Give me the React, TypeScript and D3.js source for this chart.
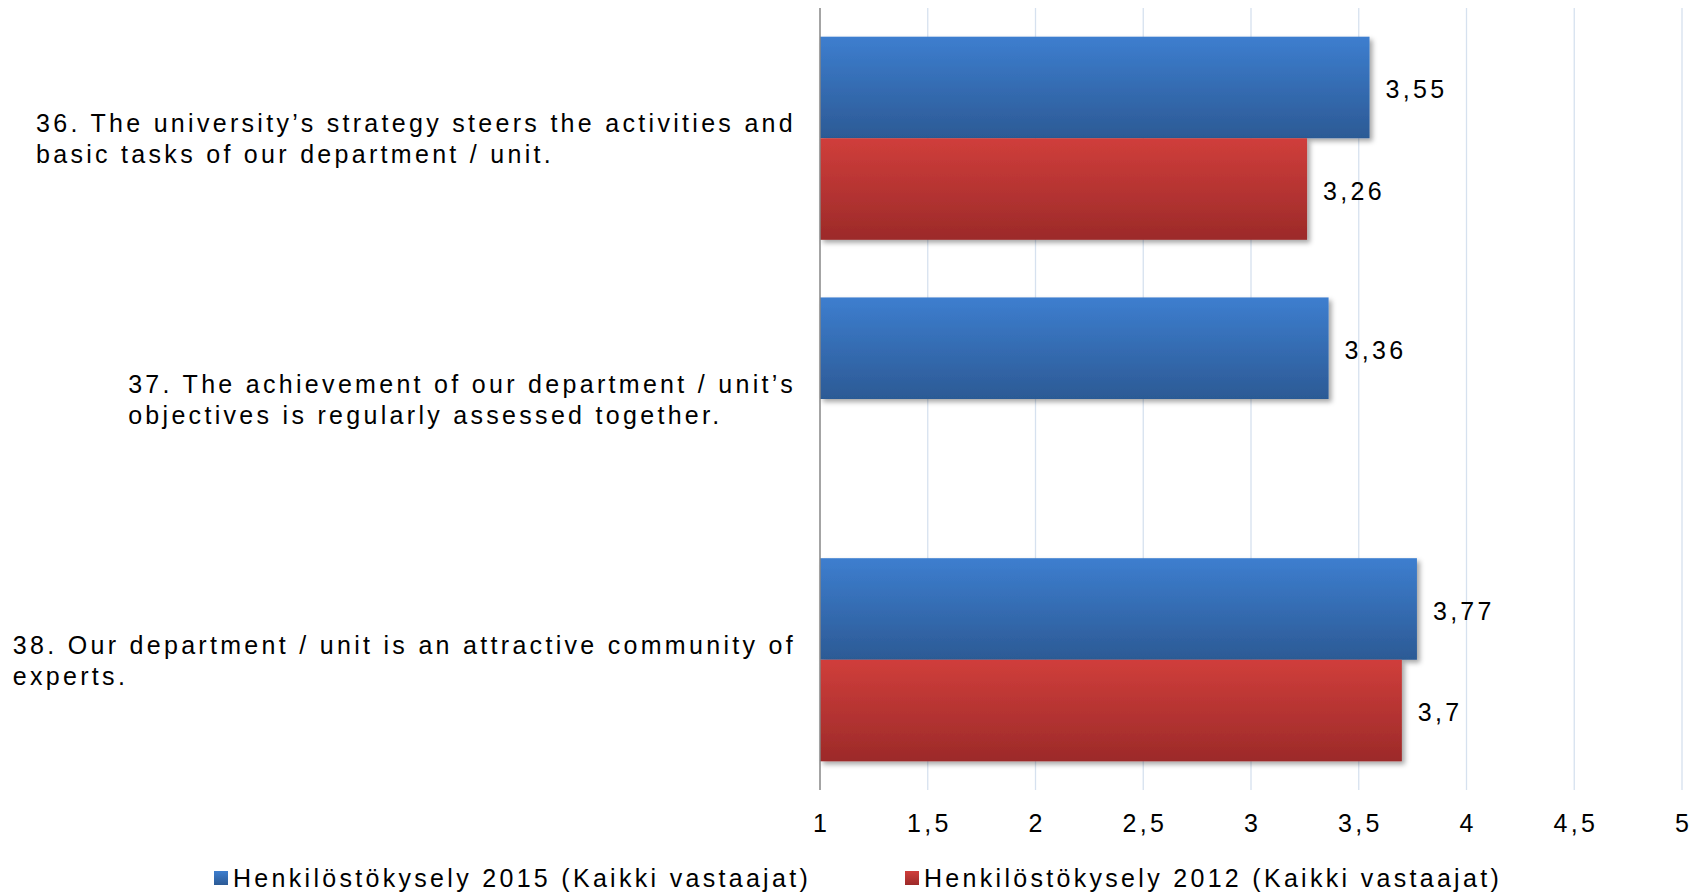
import React, { useEffect, useRef } from "react";
import * as d3 from "d3";

const categoryLines: string[][] = [
  ["36. The university’s strategy steers the activities and", "basic tasks of our department / unit."],
  ["37. The achievement of our department / unit’s", "objectives is regularly assessed together."],
  ["38. Our department / unit is an attractive community of", "experts."],
];
const categories = ["36", "37", "38"];
const values2015: number[] = [3.55, 3.36, 3.77];
const values2012: (number | null)[] = [3.26, null, 3.7];
const seriesNames = [
  "Henkilöstökysely 2015 (Kaikki vastaajat)",
  "Henkilöstökysely 2012 (Kaikki vastaajat)",
];
const xTicks = [1, 1.5, 2, 2.5, 3, 3.5, 4, 4.5, 5];

const W = 1703;
const H = 895;
const FONT = "'Liberation Sans', Arial, sans-serif";
const FS = 25;
const LS = 3.3;

const fmt = (v: number) => String(v).replace(".", ",");

export default function App() {
  const ref = useRef<SVGSVGElement | null>(null);

  useEffect(() => {
    const svg = d3.select(ref.current);
    svg.selectAll("*").remove();

    const x = d3.scaleLinear().domain([1, 5]).range([820, 1682]);
    const y = d3
      .scaleBand<string>()
      .domain(categories)
      .range([8, 790])
      .paddingInner(0.221)
      .paddingOuter(0.11);

    const defs = svg.append("defs");
    const mkGrad = (id: string, c1: string, c2: string) => {
      const g = defs
        .append("linearGradient")
        .attr("id", id)
        .attr("x1", 0)
        .attr("y1", 0)
        .attr("x2", 0)
        .attr("y2", 1);
      g.append("stop").attr("offset", "0%").attr("stop-color", c1);
      g.append("stop").attr("offset", "100%").attr("stop-color", c2);
    };
    mkGrad("gBlue", "#3D7ECF", "#2C5A95");
    mkGrad("gRed", "#D03E3B", "#9C2A29");
    const f = defs
      .append("filter")
      .attr("id", "shadow")
      .attr("x", "-5%")
      .attr("y", "-10%")
      .attr("width", "115%")
      .attr("height", "130%");
    f.append("feDropShadow")
      .attr("dx", 3)
      .attr("dy", 3)
      .attr("stdDeviation", 2.5)
      .attr("flood-color", "#000")
      .attr("flood-opacity", 0.35);

    // gridlines
    svg
      .append("g")
      .selectAll("line")
      .data(xTicks.slice(1))
      .join("line")
      .attr("x1", (d) => x(d))
      .attr("x2", (d) => x(d))
      .attr("y1", 8)
      .attr("y2", 790)
      .attr("stroke", "#D6E1EF")
      .attr("stroke-width", 1.3);

    const bw = y.bandwidth() / 2;
    const bars = svg.append("g");
    categories.forEach((c, i) => {
      const y0 = y(c)!;
      const v1 = values2015[i];
      bars
        .append("rect")
        .attr("x", x(1))
        .attr("y", y0)
        .attr("width", x(v1) - x(1))
        .attr("height", bw)
        .attr("fill", "url(#gBlue)")
        .attr("filter", "url(#shadow)");
      const v2 = values2012[i];
      if (v2 != null) {
        bars
          .append("rect")
          .attr("x", x(1))
          .attr("y", y0 + bw)
          .attr("width", x(v2) - x(1))
          .attr("height", bw)
          .attr("fill", "url(#gRed)")
          .attr("filter", "url(#shadow)");
      }
    });

    // value labels
    const lab = svg
      .append("g")
      .attr("font-family", FONT)
      .attr("font-size", FS)
      .attr("letter-spacing", LS)
      .attr("fill", "#000");
    categories.forEach((c, i) => {
      const y0 = y(c)!;
      const v1 = values2015[i];
      lab
        .append("text")
        .attr("x", x(v1) + 16)
        .attr("y", y0 + bw / 2 + 2)
        .attr("dy", "0.35em")
        .text(fmt(v1));
      const v2 = values2012[i];
      if (v2 != null) {
        lab
          .append("text")
          .attr("x", x(v2) + 16)
          .attr("y", y0 + bw * 1.5 + 2)
          .attr("dy", "0.35em")
          .text(fmt(v2));
      }
    });

    // axis line
    svg
      .append("line")
      .attr("x1", x(1))
      .attr("x2", x(1))
      .attr("y1", 8)
      .attr("y2", 790)
      .attr("stroke", "#868686")
      .attr("stroke-width", 1.5);

    // tick labels
    svg
      .append("g")
      .attr("font-family", FONT)
      .attr("font-size", FS)
      .attr("letter-spacing", LS)
      .attr("text-anchor", "middle")
      .selectAll("text")
      .data(xTicks)
      .join("text")
      .attr("x", (d) => x(d) + LS / 2)
      .attr("y", 823)
      .attr("dy", "0.35em")
      .text((d) => fmt(d));

    // category labels
    const cat = svg
      .append("g")
      .attr("font-family", FONT)
      .attr("font-size", FS)
      .attr("letter-spacing", LS);
    categories.forEach((c, i) => {
      const yc = y(c)! + y.bandwidth() / 2 + 1;
      const lines = categoryLines[i];
      const g = cat.append("g");
      const texts = lines.map((ln, j) =>
        g
          .append("text")
          .attr("y", yc + (j - (lines.length - 1) / 2) * 31)
          .attr("dy", "0.35em")
          .text(ln)
      );
      const maxW = d3.max(texts, (t) => (t.node() as SVGTextElement).getComputedTextLength()) || 0;
      texts.forEach((t) => t.attr("x", 796 - maxW));
    });

    // legend
    const leg = svg.append("g").attr("font-family", FONT).attr("font-size", FS).attr("letter-spacing", LS);
    const legX = [214, 905];
    const grads = ["url(#gBlue)", "url(#gRed)"];
    seriesNames.forEach((n, i) => {
      leg
        .append("rect")
        .attr("x", legX[i])
        .attr("y", 871)
        .attr("width", 14)
        .attr("height", 14)
        .attr("fill", grads[i]);
      leg
        .append("text")
        .attr("x", legX[i] + 19)
        .attr("y", 878)
        .attr("dy", "0.35em")
        .text(n);
    });
  }, []);

  return (
    <svg
      ref={ref}
      width={W}
      height={H}
      style={{ position: "absolute", left: 0, top: 0, background: "#fff" }}
    />
  );
}
